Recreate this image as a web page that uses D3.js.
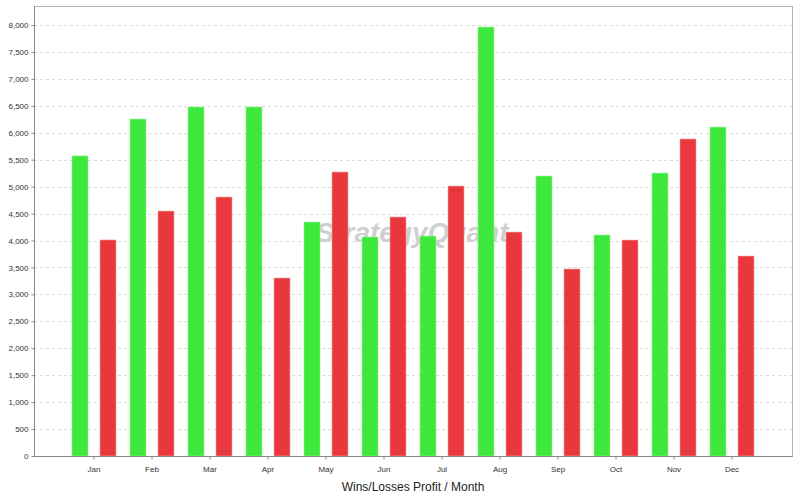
<!DOCTYPE html>
<html><head><meta charset="utf-8">
<script src="https://cdn.jsdelivr.net/npm/d3@7"></script>
<style>body{margin:0;background:#fff}svg{display:block}</style>
</head><body><svg id="c" width="800" height="500"></svg>
<script>
const months = ["Jan","Feb","Mar","Apr","May","Jun","Jul","Aug","Sep","Oct","Nov","Dec"];
const wins = [5570,6255,6478,6478,4343,4065,4083,7962,5197,4102,5252,6106];
const losses = [4010,4547,4807,3304,5271,4436,5011,4157,3471,4009,5884,3712];
const yTicks = [0,500,1000,1500,2000,2500,3000,3500,4000,4500,5000,5500,6000,6500,7000,7500,8000];
const xTitle = "Wins/Losses Profit / Month";

const svg = d3.select("#c");
const L=34, R=792, T=6, B=456;
const y = d3.scaleLinear().domain([0,8353]).range([B,T]);
const x = d3.scaleBand().domain(months).range([65,761]).padding(0);
const bw = 16, off = 6;

// grid
svg.append("g").selectAll("line").data(yTicks.slice(1)).join("line")
  .attr("x1",L).attr("x2",R).attr("y1",d=>Math.round(y(d))+0.5).attr("y2",d=>Math.round(y(d))+0.5)
  .attr("stroke","#dcdcdc").attr("stroke-dasharray","3,3");

// watermark
svg.append("text").attr("x",412).attr("y",242).attr("text-anchor","middle")
  .attr("font-family","Liberation Sans, Arial, sans-serif").attr("font-size",28)
  .attr("font-style","italic").attr("font-weight","bold").attr("fill","#cfcfcf")
  .text("StrategyQuant");

// bars
const g = svg.append("g");
g.selectAll("rect.w").data(months).join("rect").attr("class","w")
  .attr("x",(d,i)=>x(d)+x.bandwidth()/2-off-bw)
  .attr("y",(d,i)=>y(wins[i])).attr("width",bw).attr("height",(d,i)=>B-y(wins[i]))
  .attr("fill","#3de83a").attr("stroke","#9af59a").attr("stroke-width",0.6);
g.selectAll("rect.l").data(months).join("rect").attr("class","l")
  .attr("x",(d,i)=>x(d)+x.bandwidth()/2+off)
  .attr("y",(d,i)=>y(losses[i])).attr("width",bw).attr("height",(d,i)=>B-y(losses[i]))
  .attr("fill","#e8383d").attr("stroke","#f4a0a0").attr("stroke-width",0.6);

// frame
svg.append("rect").attr("x",L+0.5).attr("y",T+0.5).attr("width",R-L).attr("height",B-T)
  .attr("fill","none").attr("stroke","#b4b4b4");
svg.append("line").attr("x1",L+0.5).attr("x2",L+0.5).attr("y1",T).attr("y2",B+0.5).attr("stroke","#888");
svg.append("line").attr("x1",L).attr("x2",R+0.5).attr("y1",B+0.5).attr("y2",B+0.5).attr("stroke","#888");

// axes
const ya = svg.append("g").attr("transform",`translate(${L+0.5},0)`)
  .call(d3.axisLeft(y).tickValues(yTicks).tickSize(3).tickSizeOuter(0).tickFormat(d3.format(",")));
const xa = svg.append("g").attr("transform",`translate(0,${B+0.5})`)
  .call(d3.axisBottom(x).tickSize(3).tickSizeOuter(0));
[ya,xa].forEach(a=>{
  a.select(".domain").remove();
  a.selectAll(".tick line").attr("stroke","#888");
  a.selectAll("text").attr("font-family","Liberation Sans, Arial, sans-serif").attr("font-size",8).attr("fill","#333");
});
xa.selectAll("text").attr("dy","1.2em");

svg.append("text").attr("x",413).attr("y",491).attr("text-anchor","middle")
  .attr("font-family","Liberation Sans, Arial, sans-serif").attr("font-size",12).attr("fill","#222")
  .text(xTitle);
</script></body></html>
